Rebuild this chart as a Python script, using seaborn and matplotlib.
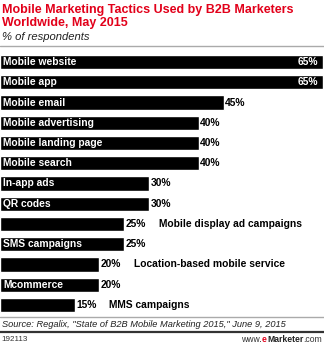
import matplotlib
matplotlib.use("Agg")
import matplotlib.pyplot as plt
import seaborn as sns
import pandas as pd

tactics = [
    "Mobile website", "Mobile app", "Mobile email", "Mobile advertising",
    "Mobile landing page", "Mobile search", "In-app ads", "QR codes",
    "Mobile display ad campaigns", "SMS campaigns",
    "Location-based mobile service", "Mcommerce", "MMS campaigns",
]
shares = [65, 65, 45, 40, 40, 40, 30, 30, 25, 25, 20, 20, 15]

title = "Mobile Marketing Tactics Used by B2B Marketers\nWorldwide, May 2015"
subtitle = "% of respondents"
source = 'Source: Regalix, "State of B2B Mobile Marketing 2015," June 9, 2015'
chart_id = "192113"

df = pd.DataFrame({"tactic": tactics, "share": shares})

sns.set_theme(style="white")
plt.rcParams["font.family"] = ["Liberation Sans", "DejaVu Sans"]

W, H = 324, 345
fig = plt.figure(figsize=(W / 100, H / 100), dpi=100)
ax = fig.add_axes([0, 1 - 315 / H, 1, (315 - 52) / H])

sns.barplot(data=df, y="tactic", x="share", orient="h", color="black",
            saturation=1, width=0.7, ax=ax)
ax.set_xlim(0, 65.2)
ax.set_ylim(len(tactics) - 0.5, -0.5)
ax.axis("off")

fig.canvas.draw()
renderer = fig.canvas.get_renderer()
px_per_unit = ax.transData.transform((1, 0))[0] - ax.transData.transform((0, 0))[0]

LBL = 7.4
for i, (name, val) in enumerate(zip(tactics, shares)):
    lbl = ax.text(0.6, i, name, color="white", fontsize=LBL, fontweight="bold",
                  va="center", ha="left")
    bar_px = val * px_per_unit
    text_px = lbl.get_window_extent(renderer).width + 0.6 * px_per_unit
    if val >= 60:
        ax.text(val - 0.9, i, f"{val}%", color="white", fontsize=LBL,
                fontweight="bold", va="center", ha="right")
    else:
        ax.text(val + 0.3, i, f"{val}%", color="black", fontsize=LBL,
                fontweight="bold", va="center", ha="left")
    if text_px > bar_px - 4:
        lbl.set_color("black")
        lbl.set_x(val + 7.0)

fig.text(2 / W, 1 - 4 / H, title, color="#e2001a", fontsize=9.0,
         fontweight="bold", va="top", ha="left", linespacing=1.12)
fig.text(2 / W, 1 - 37.5 / H, subtitle, color="#222222", fontsize=8.1,
         style="italic", va="center", ha="left")

fig.add_artist(plt.Line2D([0, 1], [1 - 46 / H] * 2, color="#aaaaaa", lw=1.0))
fig.add_artist(plt.Line2D([0, 1], [1 - 317 / H] * 2, color="#aaaaaa", lw=1.0))
fig.text(2 / W, 1 - 324.5 / H, source, color="#222222", fontsize=6.7,
         style="italic", va="center", ha="left")
fig.add_artist(plt.Line2D([0, 1], [1 - 331.5 / H] * 2, color="#333333", lw=1.6))
fig.text(1 / W, 1 - 339.5 / H, chart_id, color="#333333", fontsize=5.8,
         va="center", ha="left")

# site name, right aligned, with a red bold "e"
parts = [("www.", "normal", "#333333"), ("e", "bold", "#e2001a"),
         ("Marketer", "bold", "#222222"), (".com", "normal", "#333333")]
widths = []
for s, wgt, c in parts:
    t = fig.text(0, 0, s, fontsize=6.2, fontweight=wgt, color=c)
    widths.append(t.get_window_extent(renderer).width)
    t.remove()
xpos = W - 2 - sum(widths)
for (s, wgt, c), w in zip(parts, widths):
    fig.text(xpos / W, 1 - 339.5 / H, s, fontsize=6.2, fontweight=wgt,
             color=c, va="center", ha="left")
    xpos += w

fig.savefig("out.png", dpi=100)
